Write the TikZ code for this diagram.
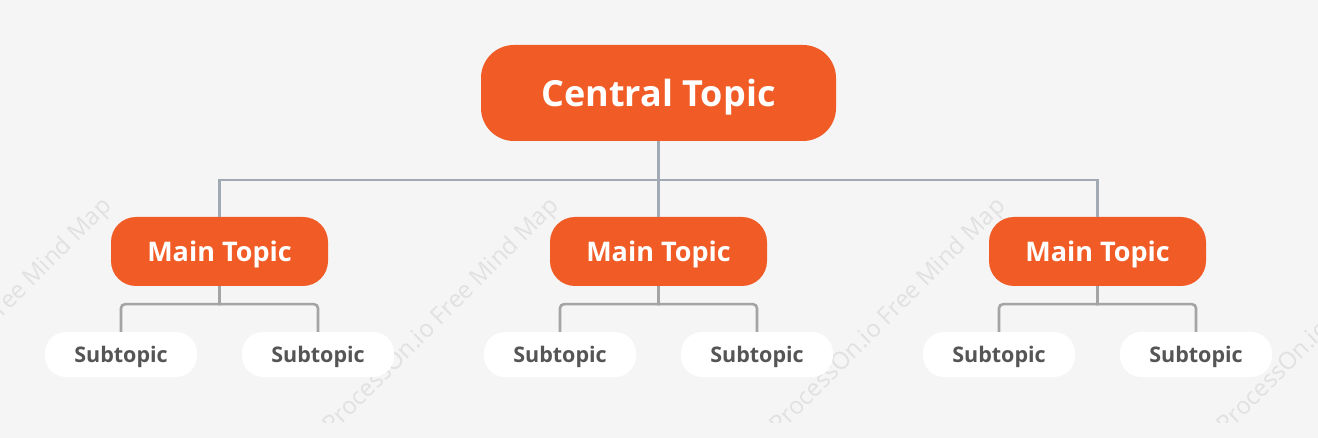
\documentclass[tikz,border=0pt]{standalone}
\usepackage{xcolor}
\usepackage{fontspec}
\setmainfont{Open Sans}
\definecolor{bgcol}{HTML}{F5F5F5}
\definecolor{topicorange}{HTML}{F15B26}
\definecolor{mainline}{HTML}{A1AAB2}
\definecolor{subline}{HTML}{A4A4A4}
\definecolor{subtext}{HTML}{555555}
\definecolor{markcol}{HTML}{E1E1E1}
\tikzset{
  central/.style={fill=topicorange,text=white,rounded corners=33pt,minimum width=355pt,minimum height=96pt,text depth=0pt,font=\fontsize{36}{36}\selectfont\bfseries},
  maintopic/.style={fill=topicorange,text=white,rounded corners=25pt,minimum width=217pt,minimum height=69pt,text depth=0pt,font=\fontsize{27}{27}\selectfont\bfseries},
  subtopic/.style={fill=white,text=subtext,rounded corners=21pt,minimum width=152pt,minimum height=45pt,text depth=0pt,font=\fontsize{21.5}{21.5}\selectfont\bfseries},
  watermark/.style={text=markcol,rotate=45,anchor=base east,font=\fontsize{24}{24}\selectfont}
}
\begin{document}
\begin{tikzpicture}[
    level 1/.style={level distance=158.5pt,sibling distance=439pt,
      edge from parent/.style={draw=mainline,line width=2.6pt},
      edge from parent path={(\tikzparentnode.south) -- ++(0,-39pt) -| (\tikzchildnode.north)}},
    level 2/.style={level distance=103pt,sibling distance=197pt,
      edge from parent/.style={draw=subline,line width=2.6pt},
      edge from parent path={(\tikzparentnode.south) -- ++(0,-18pt) [rounded corners=4pt] -| (\tikzchildnode.north)}}]
  \path[use as bounding box,fill=bgcol] (0,0) rectangle (1318pt,-438pt);
  \begin{scope}
    \clip (0,0) rectangle (1318pt,-422pt);
    \foreach \wx in {115,562,1009,1456}
      \node[watermark] at (\wx pt,-205pt) {ProcessOn.io Free Mind Map};
  \end{scope}
  \node[central] (central) at (658.5pt,-93pt) {Central Topic}
    child {node[maintopic] (mainA) {Main Topic}
      child {node[subtopic] (subA1) {Subtopic}}
      child {node[subtopic] (subA2) {Subtopic}}}
    child {node[maintopic] (mainB) {Main Topic}
      child {node[subtopic] (subB1) {Subtopic}}
      child {node[subtopic] (subB2) {Subtopic}}}
    child {node[maintopic] (mainC) {Main Topic}
      child {node[subtopic] (subC1) {Subtopic}}
      child {node[subtopic] (subC2) {Subtopic}}};
\end{tikzpicture}
\end{document}
